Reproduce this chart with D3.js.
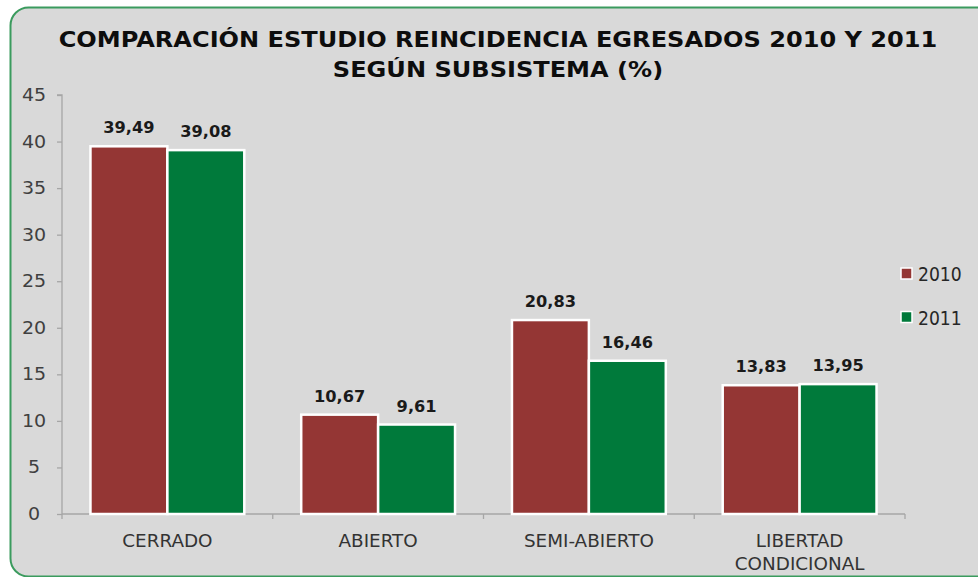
<!DOCTYPE html>
<html>
<head>
<meta charset="utf-8">
<script src="https://cdn.jsdelivr.net/npm/d3@7"></script>
<style>
  body { margin: 0; background: #fff; }
  svg { display: block; font-family: "DejaVu Sans", Verdana, sans-serif; }
</style>
</head>
<body>
<svg width="978" height="577"></svg>
<script>
// **** chart data ****
var categories = ['CERRADO', 'ABIERTO', 'SEMI-ABIERTO', 'LIBERTAD CONDICIONAL'];
var seriesNames = ['2010', '2011'];
var values2010 = [39.49, 10.67, 20.83, 13.83];
var values2011 = [39.08, 9.61, 16.46, 13.95];
var yTicks = [0, 5, 10, 15, 20, 25, 30, 35, 40, 45];
var titleLines = ['COMPARACIÓN ESTUDIO REINCIDENCIA EGRESADOS 2010 Y 2011', 'SEGÚN SUBSISTEMA (%)'];
var colors = ['#943634', '#007a3b'];

var SX = 1.08; // the source image is a bit wider than tall

var svg = d3.select('svg');

// frame
svg.append('rect')
    .attr('x', 10.5).attr('y', 7.5)
    .attr('width', 990).attr('height', 569)
    .attr('rx', 18)
    .attr('fill', '#d9d9d9')
    .attr('stroke', '#3b9b5e')
    .attr('stroke-width', 2);

function stretchedText(parent, x, y, txt, sx) {
    return parent.append('text')
        .attr('transform', 'translate(' + x + ',' + y + ') scale(' + (sx || SX) + ',1)')
        .attr('text-anchor', 'middle')
        .text(txt);
}

// **** scales and axes ****
var xScale = d3.scaleBand().domain(categories).range([62, 905]).padding(0);
var seriesScale = d3.scaleBand().domain(seriesNames)
    .range([0, xScale.bandwidth()]).paddingInner(0).paddingOuter(0.37);
var yScale = d3.scaleLinear().domain([0, 45]).range([514, 95]);

// title
titleLines.forEach(function(t, i) {
    stretchedText(svg, 498, 47 + i * 30, t, 1.12)
        .attr('font-size', 21.5)
        .attr('font-weight', 'bold')
        .attr('fill', '#0d0d0d');
});

// y axis
var yAxis = svg.append('g')
    .attr('transform', 'translate(62,0)')
    .call(d3.axisLeft(yScale).tickValues(yTicks).tickSize(5).tickFormat(''));
yAxis.selectAll('path, line').attr('stroke', '#a6a6a6').attr('stroke-width', 1.3);
yAxis.select('.domain').attr('d', 'M-5,' + yScale(45) + 'H0V' + yScale(0));

var yLabels = svg.append('g');
yTicks.forEach(function(v) {
    stretchedText(yLabels, 34, yScale(v) + 6, v, 1.12)
        .attr('font-size', 17)
        .attr('fill', '#404040');
});

// x axis (ticks sit on the category boundaries)
var boundaries = categories.map(function(c) { return xScale(c); }).concat([xScale.range()[1]]);
var xAxis = svg.append('g');
xAxis.append('line')
    .attr('x1', 62).attr('x2', 905)
    .attr('y1', yScale(0)).attr('y2', yScale(0));
xAxis.selectAll('line.tick')
    .data(boundaries)
    .enter()
    .append('line')
    .attr('class', 'tick')
    .attr('x1', function(d) { return d; }).attr('x2', function(d) { return d; })
    .attr('y1', yScale(0)).attr('y2', yScale(0) + 5);
xAxis.selectAll('line').attr('stroke', '#a6a6a6').attr('stroke-width', 1.3);

categories.forEach(function(c) {
    var words = c === 'LIBERTAD CONDICIONAL' ? ['LIBERTAD', 'CONDICIONAL'] : [c];
    words.forEach(function(w, i) {
        stretchedText(svg, xScale(c) + xScale.bandwidth() / 2, 547 + i * 23, w)
            .attr('font-size', 17)
            .attr('fill', '#333');
    });
});

// **** bars ****
var data = [];
categories.forEach(function(c, i) {
    data.push({ cat: c, series: '2010', value: values2010[i], color: colors[0] });
    data.push({ cat: c, series: '2011', value: values2011[i], color: colors[1] });
});

svg.append('g').selectAll('rect')
    .data(data)
    .enter()
    .append('rect')
    .attr('x', function(d) { return xScale(d.cat) + seriesScale(d.series); })
    .attr('y', function(d) { return yScale(d.value); })
    .attr('width', seriesScale.bandwidth())
    .attr('height', function(d) { return yScale(0) - yScale(d.value); })
    .attr('fill', function(d) { return d.color; })
    .attr('stroke', '#fff')
    .attr('stroke-width', 2.5);

var valueLabels = svg.append('g');
data.forEach(function(d) {
    stretchedText(valueLabels,
        xScale(d.cat) + seriesScale(d.series) + seriesScale.bandwidth() / 2,
        yScale(d.value) - 13,
        d3.format('.2f')(d.value).replace('.', ','))
        .attr('font-size', 15)
        .attr('font-weight', 'bold')
        .attr('fill', '#1a1a1a');
});

// **** legend ****
var legend = svg.append('g');
seriesNames.forEach(function(s, i) {
    var y = 273.5 + i * 43.5;
    legend.append('rect')
        .attr('x', 901).attr('y', y - 5.5)
        .attr('width', 11).attr('height', 11)
        .attr('fill', colors[i])
        .attr('stroke', '#fff')
        .attr('stroke-width', 1.5);
    legend.append('text')
        .attr('transform', 'translate(918,' + (y + 7.5) + ') scale(0.86,1)')
        .attr('font-size', 20)
        .attr('fill', '#262626')
        .text(s);
});
</script>
</body>
</html>
